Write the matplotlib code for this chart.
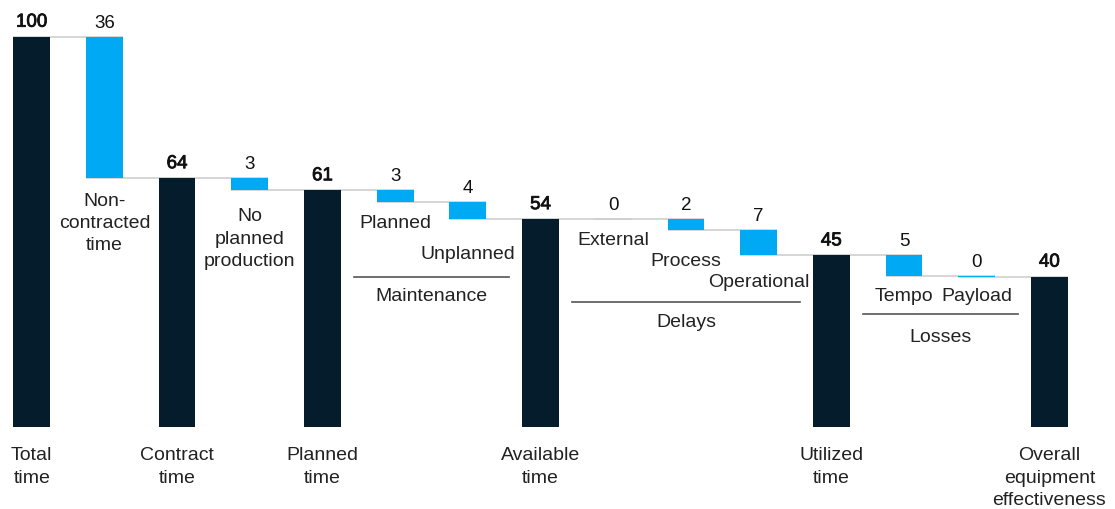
import matplotlib
matplotlib.use("Agg")
import matplotlib.pyplot as plt
import matplotlib.patheffects as pe

# ---------------- data ----------------
categories = ["Total\ntime", "Non-\ncontracted\ntime", "Contract\ntime",
              "No\nplanned\nproduction", "Planned\ntime", "Planned", "Unplanned",
              "Available\ntime", "External", "Process", "Operational",
              "Utilized\ntime", "Tempo", "Payload",
              "Overall\nequipment\neffectiveness"]
# first value = start total; None = subtotal; other numbers = reductions
changes = [100, 36.3, None, 3.1, None, 3.0, 4.4, None, 0.0, 2.7, 6.6, None, 5.4, 0.05, None]
value_labels = ["100", "36", "64", "3", "61", "3", "4", "54", "0", "2", "7", "45", "5", "0", "40"]
groups = ["Maintenance", "Delays", "Losses"]
group_members = [(5, 6), (8, 10), (12, 13)]

# ---------------- style / layout ----------------
NAVY = "#051c2c"
BLUE = "#00a9f4"
CONN = "#cfcfcf"
TXT = "#222222"
FONT = "Liberation Sans"
BAR_W = 0.505
LS = 1.41

# pixel-based layout (figure 1115x510 px, axes fill figure)
X0_PX, DX_PX = 31.7, 72.69
Y0_PX, DY_PX = 427.5, 3.898


def py(p):
    return (Y0_PX - p) / DY_PX


# label cap-top pixel positions for reduction labels
delta_label_top = [None, 192.7, None, 208.3, None, 215, 246, None, 232.3, 253.3, 274,
                   None, 287.7, 287.7, None]
total_label_top = 447.3
group_line_px = [278.3, 302.7, 315.0]
group_text_top = [288.3, 314.0, 329.3]

fig = plt.figure(figsize=(11.15, 5.10), dpi=100)
ax = fig.add_axes([0, 0, 1, 1])
ax.set_xlim(-X0_PX / DX_PX, (1115 - X0_PX) / DX_PX)
ax.set_ylim(py(510), py(0))
ax.axis("off")

n = len(categories)
bottoms, tops, kinds = [], [], []
level = 0.0
for i, c in enumerate(changes):
    if i == 0:
        level = c
        bottoms.append(0.0); tops.append(level); kinds.append("total")
    elif c is None:
        bottoms.append(0.0); tops.append(level); kinds.append("total")
    else:
        bottoms.append(level - c); tops.append(level); kinds.append("delta")
        level -= c

xs = list(range(n))
heights = [t - b for t, b in zip(tops, bottoms)]
colors = [NAVY if k == "total" else BLUE for k in kinds]

# connectors
for i in range(n - 1):
    end_level = tops[i] if kinds[i] == "total" else bottoms[i]
    ax.plot([xs[i] - BAR_W / 2, xs[i + 1] + BAR_W / 2], [end_level, end_level],
            color=CONN, lw=1.2, zorder=1, solid_capstyle="butt")

ax.bar(xs, heights, bottom=bottoms, width=BAR_W, color=colors, zorder=2, linewidth=0)

# value labels
gap = 10 / DY_PX
semibold = [pe.withStroke(linewidth=0.6, foreground="#111111")]
for i in range(n):
    t = ax.text(xs[i], tops[i] + gap, value_labels[i], ha="center", va="baseline",
                fontsize=13.5, family=FONT, color="#111111")
    if kinds[i] == "total":
        t.set_path_effects(semibold)

# category labels
for i in range(n):
    ytop = total_label_top if kinds[i] == "total" else delta_label_top[i]
    ax.text(xs[i], py(ytop), categories[i], ha="center", va="top",
            fontsize=14, family=FONT, color=TXT, linespacing=LS)

# group brackets
for g, (a, b), lp, tp in zip(groups, group_members, group_line_px, group_text_top):
    ax.plot([xs[a] - 0.57, xs[b] + 0.57], [py(lp), py(lp)], color="#555555", lw=1.2)
    ax.text((xs[a] + xs[b]) / 2, py(tp), g, ha="center", va="top",
            fontsize=14, family=FONT, color=TXT)

fig.savefig("out.png", dpi=100)
